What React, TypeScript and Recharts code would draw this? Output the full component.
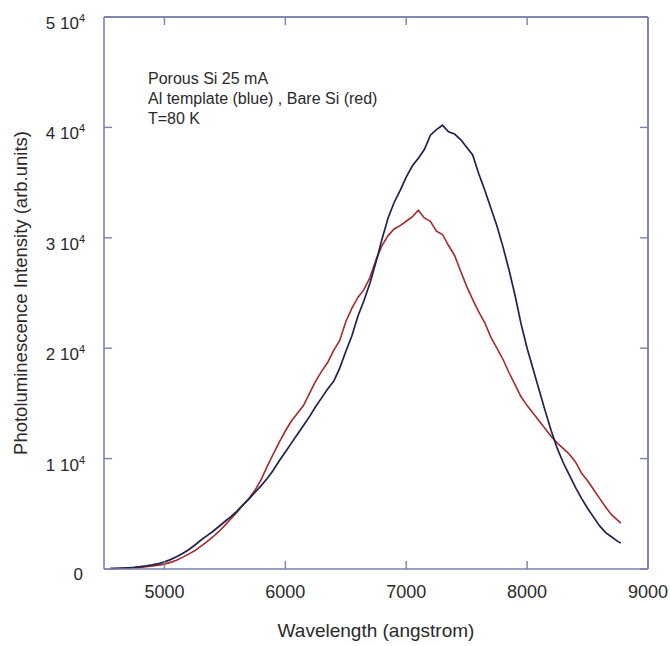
import React from "react";
import { LineChart, Line, XAxis, YAxis, Label, ReferenceLine } from "recharts";

const wavelengths = [
  4550, 4600, 4650, 4700, 4750, 4800, 4850, 4900, 4950, 5000,
  5050, 5100, 5150, 5200, 5250, 5300, 5350, 5400, 5450, 5500,
  5550, 5600, 5650, 5700, 5750, 5800, 5850, 5900, 5950, 6000,
  6050, 6100, 6150, 6200, 6250, 6300, 6350, 6400, 6450, 6500,
  6550, 6600, 6650, 6700, 6750, 6800, 6850, 6900, 6950, 7000,
  7050, 7100, 7150, 7200, 7250, 7300, 7350, 7400, 7450, 7500,
  7550, 7600, 7650, 7700, 7750, 7800, 7850, 7900, 7950, 8000,
  8050, 8100, 8150, 8200, 8250, 8300, 8350, 8400, 8450, 8500,
  8550, 8600, 8650, 8700, 8750, 8775,
];

// Al template (blue)
const alTemplate = [
  40, 60, 80, 110, 150, 210, 280, 370, 480, 650,
  850, 1100, 1400, 1750, 2150, 2600, 3000, 3400, 3850, 4300,
  4750, 5250, 5800, 6350, 6950, 7550, 8200, 8950, 9800, 10600,
  11400, 12200, 13000, 13800, 14700, 15500, 16300, 17000, 18200, 19700,
  21100, 22900, 24300, 25900, 27800, 29900, 31800, 33200, 34300, 35500,
  36500, 37200, 38000, 39300, 39800, 40200, 39600, 39400, 38900, 38200,
  37500, 35800, 34300, 32700, 31100, 29200, 27100, 24800, 22200, 20000,
  18100, 16200, 14300, 12500, 10900, 9600, 8500, 7400, 6400, 5500,
  4700, 3900, 3300, 2900, 2500, 2350,
];

// Bare Si (red)
const bareSi = [
  30, 40, 60, 80, 110, 150, 200, 270, 350, 440,
  600, 800, 1050, 1350, 1650, 2050, 2450, 2900, 3400, 3950,
  4550, 5150, 5800, 6400, 7150, 8100, 9300, 10400, 11500, 12500,
  13400, 14100, 14800, 15900, 17000, 17900, 18700, 19800, 20700, 22400,
  23600, 24600, 25300, 26400, 28000, 29300, 30200, 30800, 31100, 31500,
  31900, 32500, 31800, 31500, 30600, 30300, 29300, 28400, 27000, 25600,
  24400, 23300, 22300, 21000, 20000, 19000, 17800, 16700, 15600, 14800,
  14100, 13400, 12700, 12000, 11400, 10900, 10400, 9700, 8700, 8000,
  7200, 6400, 5600, 4900, 4400, 4150,
];

const xTicks = [5000, 6000, 7000, 8000, 9000];
const yTicks = [0, 10000, 20000, 30000, 40000, 50000];
const yTickMantissa = ["0", "1", "2", "3", "4", "5"];
const xMax = 9000;
const yMax = 50000;

const annotationLines = [
  "Porous Si  25 mA",
  "Al template (blue) , Bare Si (red)",
  "T=80 K",
];

const rows = wavelengths.map((w, i) => ({ w, blue: alTemplate[i], red: bareSi[i] }));

const FONT = "'Liberation Sans', Arial, Helvetica, sans-serif";
const AXIS = "#7d80ae";
const TEXT = "#2a2a2a";
const TICK_LEN = 8;

const XTick = (props: any) => {
  const { x, y, payload } = props;
  return (
    <g>
      <line x1={x} x2={x} y1={y} y2={y - TICK_LEN} stroke={AXIS} strokeWidth={1.4} />
      <text x={x} y={y + 29} textAnchor="middle" fontFamily={FONT} fontSize={18} fill={TEXT}>
        {String(payload.value)}
      </text>
    </g>
  );
};

const TopTick = (props: any) => {
  const { x, y } = props;
  return <line x1={x} x2={x} y1={y} y2={y + TICK_LEN} stroke={AXIS} strokeWidth={1.4} />;
};

const RightTick = (props: any) => {
  const { x, y } = props;
  return <line x1={x} x2={x - TICK_LEN} y1={y} y2={y} stroke={AXIS} strokeWidth={1.4} />;
};

const YTick = (props: any) => {
  const { x, y, payload } = props;
  const idx = yTicks.indexOf(payload.value);
  const m = yTickMantissa[idx] ?? "";
  const tx = x - 19;
  return (
    <g>
      <line x1={x} x2={x + TICK_LEN} y1={y} y2={y} stroke={AXIS} strokeWidth={1.4} />
      {payload.value === 0 ? (
        <text x={tx - 2} y={y + 11} textAnchor="end" fontFamily={FONT} fontSize={17} fill={TEXT}>
          0
        </text>
      ) : (
        <text x={tx} y={y + 12} textAnchor="end" fontFamily={FONT} fontSize={17} fill={TEXT}>
          {m + " 10"}
          <tspan dy={-7} fontSize={11}>4</tspan>
        </text>
      )}
    </g>
  );
};

const XTitle = (props: any) => {
  const vb = props.viewBox || {};
  return (
    <text x={vb.x + vb.width / 2} y={vb.y + 68} textAnchor="middle" fontFamily={FONT} fontSize={19} fill={TEXT}>
      Wavelength (angstrom)
    </text>
  );
};

const YTitle = (props: any) => {
  const vb = props.viewBox || {};
  const cx = vb.x - 17;
  const cy = vb.y + vb.height / 2;
  return (
    <text
      x={cx}
      y={cy}
      transform={`rotate(-90 ${cx} ${cy})`}
      textAnchor="middle"
      fontFamily={FONT}
      fontSize={18.5}
      fill={TEXT}
    >
      Photoluminescence Intensity (arb.units)
    </text>
  );
};

const Annotation = (props: any) => {
  const vb = props.viewBox || {};
  return (
    <text fontFamily={FONT} fontSize={16} fill={TEXT}>
      {annotationLines.map((t, i) => (
        <tspan key={i} x={vb.x + 44} y={vb.y + vb.height + 66.5 + i * 20}>
          {t}
        </tspan>
      ))}
    </text>
  );
};

export default function App() {
  return (
    <div style={{ position: "absolute", left: 0, top: 0, width: 670, height: 646 }}>
      <LineChart width={670} height={646} data={rows} margin={{ top: 7, right: 12, bottom: 37, left: 44 }}>
        <XAxis
          xAxisId="bottom"
          dataKey="w"
          type="number"
          domain={[4500, xMax]}
          ticks={xTicks}
          interval={0}
          height={40}
          tickSize={0}
          tickMargin={0}
          axisLine={{ stroke: AXIS, strokeWidth: 1.6 }}
          tickLine={false}
          tick={<XTick />}
        >
          <Label content={<XTitle />} />
        </XAxis>
        <XAxis
          xAxisId="top"
          orientation="top"
          dataKey="w"
          type="number"
          domain={[4500, xMax]}
          ticks={xTicks}
          interval={0}
          height={10}
          tickSize={0}
          tickMargin={0}
          axisLine={{ stroke: AXIS, strokeWidth: 1.6 }}
          tickLine={false}
          tick={<TopTick />}
        >
          <Label content={<Annotation />} />
        </XAxis>
        <YAxis
          yAxisId="left"
          type="number"
          domain={[0, yMax]}
          ticks={yTicks}
          interval={0}
          width={60}
          tickSize={0}
          tickMargin={0}
          axisLine={{ stroke: AXIS, strokeWidth: 1.6 }}
          tickLine={false}
          tick={<YTick />}
        >
          <Label content={<YTitle />} />
        </YAxis>
        <YAxis
          yAxisId="right"
          orientation="right"
          type="number"
          domain={[0, yMax]}
          ticks={yTicks}
          interval={0}
          width={10}
          tickSize={0}
          tickMargin={0}
          axisLine={{ stroke: AXIS, strokeWidth: 1.6 }}
          tickLine={false}
          tick={<RightTick />}
        />
        <ReferenceLine xAxisId="bottom" yAxisId="left" y={yMax} stroke={AXIS} strokeWidth={1.6} ifOverflow="visible" />
        <ReferenceLine xAxisId="bottom" yAxisId="left" x={xMax} stroke={AXIS} strokeWidth={1.6} ifOverflow="visible" />
        <Line
          xAxisId="top"
          yAxisId="right"
          type="linear"
          dataKey="blue"
          stroke="#ffffff"
          strokeOpacity={0}
          dot={false}
          activeDot={false}
          isAnimationActive={false}
        />
        <Line
          xAxisId="bottom"
          yAxisId="left"
          type="linear"
          dataKey="red"
          stroke="#a8292b"
          strokeWidth={1.6}
          dot={false}
          isAnimationActive={false}
        />
        <Line
          xAxisId="bottom"
          yAxisId="left"
          type="linear"
          dataKey="blue"
          stroke="#1e2250"
          strokeWidth={1.7}
          dot={false}
          isAnimationActive={false}
        />
      </LineChart>
    </div>
  );
}
